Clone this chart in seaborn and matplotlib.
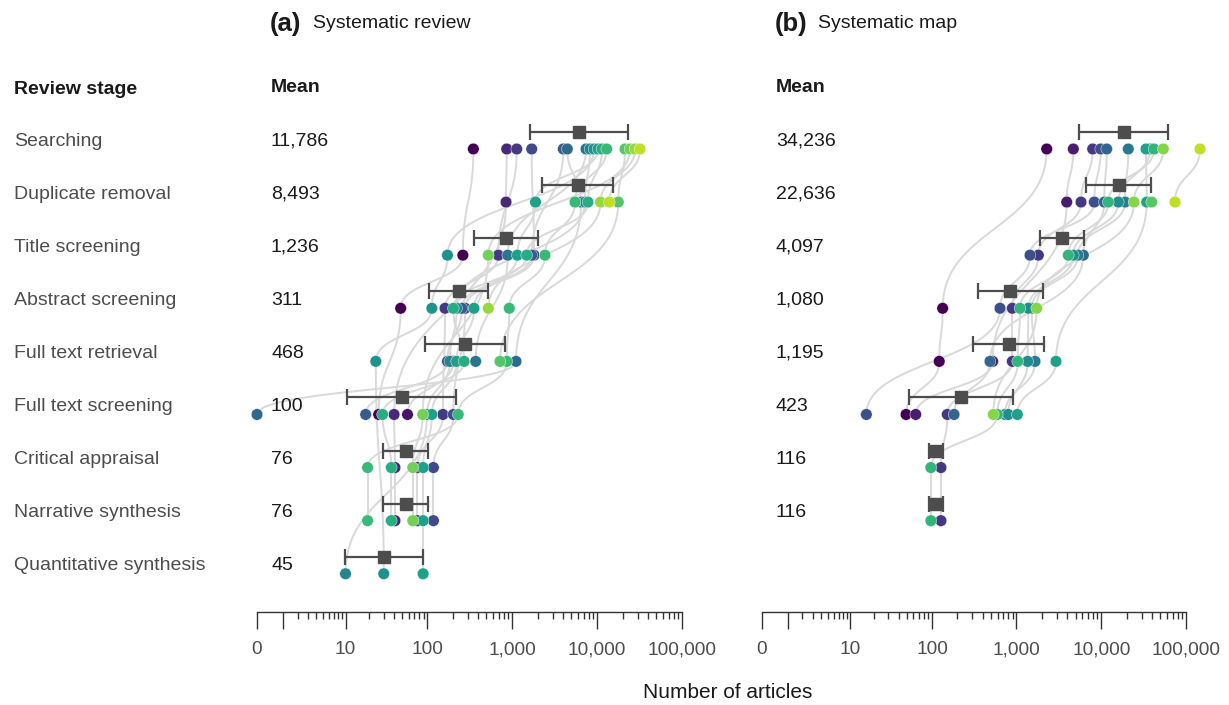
import numpy as np
import pandas as pd
import matplotlib
matplotlib.use("Agg")
import matplotlib.pyplot as plt
import matplotlib.transforms as mtransforms
from matplotlib.ticker import FixedLocator, FixedFormatter
import seaborn as sns

nan = np.nan

stages = ["Searching", "Duplicate removal", "Title screening", "Abstract screening",
          "Full text retrieval", "Full text screening", "Critical appraisal",
          "Narrative synthesis", "Quantitative synthesis"]

# (a) systematic reviews: one entry per study, nan = stage not reported
review_searching = [350, nan, 866, 1136, 1705, 4014, 4473, 7424, 8272, 9220, 10275, 11451, 13006, 21350, 24450, 28000, 32050]
review_duplicates = [nan, nan, 850, nan, nan, nan, 6483, nan, 7225, nan, 1890, 7836, 5511, 17808, nan, 10995, 13953]
review_title = [263, nan, nan, 690, 1815, 1705, nan, 889, nan, 173, 1154, 1488, 2444, nan, 525, nan, nan]
review_abstract = [48, nan, nan, 162, 280, 255, nan, nan, 222, 113, 356, 203, 928, nan, nan, 525, nan]
review_retrieval = [nan, 203, nan, nan, nan, 173, 1114, 373, 185, 24, 222, 272, 866, 721, nan, nan, nan]
review_fulltext = [26, 58, 40, 153, 203, 18, 0, nan, 99, nan, 113, 29, 232, nan, 88, nan, nan]
review_appraisal = [nan, nan, 41, 76, 118, nan, nan, nan, nan, nan, 89, 37, 19, nan, 67, nan, nan]
review_narrative = [nan, nan, 41, 76, 118, nan, nan, nan, nan, nan, 89, 37, 19, nan, 67, nan, nan]
review_quant = [nan, nan, nan, nan, nan, nan, nan, nan, 10, 30, 89, nan, nan, nan, nan, nan, nan]
review_means = [11786, 8493, 1236, 311, 468, 100, 76, 76, 45]

# (b) systematic maps
map_searching = [2277, 4688, 7940, 9865, 11614, 20870, 37630, 33760, 41940, nan, 53990, 146300]
map_duplicates = [nan, 3920, 5778, 8288, 10880, 19080, 15910, 34400, 12130, 39400, 24360, 74200]
map_title = [nan, nan, 1813, 1446, 6150, 5325, 4688, nan, 4092, nan, nan, nan]
map_abstract = [134, nan, 894, 640, nan, 1514, 1381, nan, 1102, nan, 1735, nan]
map_retrieval = [122, 524, 894, nan, 487, 1657, 1358, 2930, 1035, nan, nan, nan]
map_fulltext = [49, 64, 152, 16, 183, 733, 802, 1024, 594, nan, 533, nan]
map_appraisal = [nan, nan, 128, nan, nan, nan, nan, nan, 97, nan, nan, nan]
map_narrative = [nan, nan, 128, nan, nan, nan, nan, nan, 97, nan, nan, nan]
map_means = [34236, 22636, 4097, 1080, 1195, 423, 116, 116]

review_cols = [review_searching, review_duplicates, review_title, review_abstract, review_retrieval,
               review_fulltext, review_appraisal, review_narrative, review_quant]
map_cols = [map_searching, map_duplicates, map_title, map_abstract, map_retrieval,
            map_fulltext, map_appraisal, map_narrative]

DOT = 0.15    # dots sit a bit below the row label
BAR = -0.17   # mean +- sd sits a bit above
W, H = 1229, 705

sns.set_theme(style="ticks")
plt.rcParams["font.family"] = ["Liberation Sans", "DejaVu Sans"]


def fwd(x):
    return np.log10(np.clip(x, 0, None) + 1)


def inv(x):
    return 10 ** np.asarray(x) - 1


def long_table(cols):
    rows = []
    for i, vals in enumerate(cols):
        for k, v in enumerate(vals):
            if not np.isnan(v):
                rows.append((k, i, v))
    return pd.DataFrame(rows, columns=["study", "row", "n"])


def curves(df):
    # vertical-tangent bezier between consecutive reported stages of a study
    t = np.linspace(0, 1, 50)
    out = []
    seg = 0
    for k, g in df.sort_values("row").groupby("study"):
        g = g.reset_index(drop=True)
        for j in range(len(g) - 1):
            x1, x2 = fwd(g.n[j]), fwd(g.n[j + 1])
            y1, y2 = g.row[j] + DOT, g.row[j + 1] + DOT
            ym = (y1 + y2) / 2
            bx = (1 - t) ** 3 * x1 + 3 * (1 - t) ** 2 * t * x1 + 3 * (1 - t) * t ** 2 * x2 + t ** 3 * x2
            by = (1 - t) ** 3 * y1 + 3 * t * (1 - t) * ym + t ** 3 * y2
            out.append(pd.DataFrame({"seg": seg, "n": inv(bx), "y": by}))
            seg += 1
    return pd.concat(out, ignore_index=True)


fig = plt.figure(figsize=(W / 100, H / 100), dpi=100)
cmap = sns.color_palette("viridis", as_cmap=True)


def panel(left, right, cols, means, tag, title):
    ax = fig.add_axes([left / W, 1 - 612 / H, (right - left) / W, 502 / H])
    ax.set_xscale("function", functions=(fwd, inv))
    df = long_table(cols)
    df["ydot"] = df.row + DOT
    nstud = len(cols[0])
    colors = {k: cmap(0.9 * k / (nstud - 1)) for k in range(nstud)}

    sns.lineplot(data=curves(df), x="n", y="y", units="seg", estimator=None, sort=False,
                 color="#d9d9d9", lw=1.4, ax=ax, zorder=1, clip_on=False)
    sns.scatterplot(data=df, x="n", y="ydot", hue="study", palette=colors, legend=False,
                    s=70, edgecolor="white", linewidth=0.3, ax=ax, zorder=3, clip_on=False)

    lg = df.assign(lx=fwd(df.n)).groupby("row").lx.agg(["mean", "std"])
    m, s = lg["mean"].values, lg["std"].values
    ax.errorbar(inv(m), lg.index + BAR, xerr=[inv(m) - inv(m - s), inv(m + s) - inv(m)],
                fmt="s", color="#4d4d4d", ms=9, elinewidth=1.6, capsize=6, capthick=1.6, zorder=4)

    ax.set_xlim(0, 1e5)
    ax.set_ylim(8.870, -0.584)
    ax.set_xlabel("")
    ax.set_ylabel("")
    ax.set_yticks([])
    ax.xaxis.set_major_locator(FixedLocator([0, 1, 10, 100, 1e3, 1e4, 1e5]))
    ax.xaxis.set_major_formatter(FixedFormatter(["0", "", "10", "100", "1,000", "10,000", "100,000"]))
    ax.xaxis.set_minor_locator(FixedLocator([m_ * 10 ** e for e in range(5) for m_ in range(2, 10)]))
    ax.tick_params(axis="x", which="major", length=12, width=1, color="#333333",
                   labelsize=13.7, labelcolor="#4d4d4d", pad=9)
    ax.tick_params(axis="x", which="minor", length=5, width=1, color="#333333")
    for sp in ["top", "left", "right"]:
        ax.spines[sp].set_visible(False)
    ax.spines["bottom"].set_color("#333333")
    ax.spines["bottom"].set_linewidth(1)

    tr = mtransforms.blended_transform_factory(fig.transFigure, ax.transData)
    for i, v in enumerate(means):
        ax.text((left + 14) / W, i, f"{v:,}", transform=tr, ha="left", va="center",
                fontsize=14, color="#1a1a1a")
    fig.text((left + 14) / W, 1 - 87 / H, "Mean", ha="left", va="center",
             fontsize=14, fontweight="bold", color="#1a1a1a")
    fig.text((left + 13) / W, 1 - 24 / H, tag, ha="left", va="center",
             fontsize=18.5, fontweight="bold", color="#1a1a1a")
    fig.text((left + 56) / W, 1 - 24 / H, title, ha="left", va="center",
             fontsize=14, color="#1a1a1a")
    return ax, tr


ax_a, tr_a = panel(257, 682, review_cols, review_means, "(a)", "Systematic review")
ax_b, tr_b = panel(762, 1186, map_cols, map_means, "(b)", "Systematic map")

for i, name in enumerate(stages):
    ax_a.text(14 / W, i, name, transform=tr_a, ha="left", va="center", fontsize=14, color="#4d4d4d")
fig.text(14 / W, 1 - 89 / H, "Review stage", ha="left", va="center",
         fontsize=14, fontweight="bold", color="#1a1a1a")
fig.text(728 / W, 1 - 693 / H, "Number of articles", ha="center", va="center",
         fontsize=15, color="#1a1a1a")

fig.savefig("out.png", dpi=100, facecolor="white")
